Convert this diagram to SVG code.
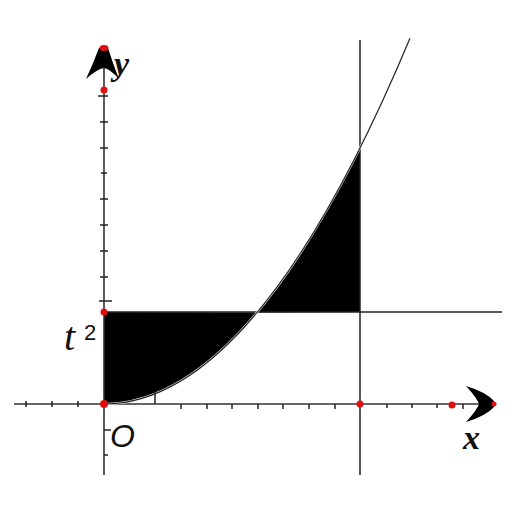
<svg xmlns="http://www.w3.org/2000/svg" width="512" height="512" viewBox="0 0 512 512">
<style>
.ax{stroke:#333;stroke-width:1.6;fill:none}
.ln{stroke:#222;stroke-width:1.5;fill:none}
.tk{stroke:#222;stroke-width:1.5}
.dot{fill:#e01010}
.lab{font-family:"Liberation Serif",serif;font-style:italic;font-weight:bold;fill:#111}
</style>
<rect width="512" height="512" fill="#fff"/>
<g id="shading">
<path d="M104,312 L257,312.6 Q180.5,404 104,404 Z" fill="#000"/>
<path d="M257,312.6 Q308.5,251 360,148 L360,312 Z" fill="#000"/>
</g>
<g id="connectors">
<line class="ax" x1="14" y1="404" x2="485" y2="404"/>
<line class="ax" x1="104" y1="50" x2="104" y2="475"/>
<line class="ln" x1="360" y1="40" x2="360" y2="475"/>
<line class="ln" x1="104" y1="312" x2="502" y2="312"/>
<path d="M104,404 Q257,404 410,38.2" stroke="#fff" stroke-width="2.2" fill="none"/>
<path d="M104,404 Q257,404 410,38.2" stroke="#222" stroke-width="1.2" fill="none"/>
<g id="ticks">
<path class="tk" d="M26,401V407 M52,401V407 M78,401V407 M181,404V409 M207,404V409 M232,404V409 M258,404V409 M283,404V409 M309,404V409 M335,404V409 M387,404V408 M412,404V408 M437,404V408 M463,404V409 M155,392V404"/>
<path class="tk" d="M98,96H108 M100,122H108 M100,148H108 M101,173H107 M100,199H108 M100,225H108 M100,251H108 M100,277H108 M99,301H112 M104,430H111 M104,455H108"/>
</g>
<path id="yarrow" d="M99,48 L108,48 Q113,64 119,79 Q110,69 104,68 Q97,69 86,79 Q93,64 99,48 Z" fill="#000"/>
<path id="xarrow" d="M466,386 Q486,392 494,401 L494,407 Q486,416 466,422 Q477,410 479,404 Q477,398 466,386 Z" fill="#000"/>
</g>
<g id="points">
<ellipse class="dot" cx="104" cy="48" rx="4.5" ry="3"/>
<circle class="dot" cx="104" cy="90" r="3.5"/>
<circle class="dot" cx="104" cy="312" r="3.5"/>
<circle class="dot" cx="104" cy="404" r="4"/>
<circle class="dot" cx="360" cy="404" r="3.5"/>
<circle class="dot" cx="452" cy="405" r="3.5"/>
<circle class="dot" cx="494" cy="404" r="2.5"/>
</g>
<g id="labels">
<text class="lab" x="114" y="75" font-size="34">y</text>
<text x="64" y="350" font-family="Liberation Serif,serif" font-style="italic" font-size="40" fill="#111">t</text>
<text x="84" y="340" font-family="Liberation Sans,sans-serif" font-size="22" fill="#111">2</text>
<text x="110" y="447" font-family="Liberation Sans,sans-serif" font-style="italic" font-size="32" fill="#111">O</text>
<text class="lab" x="463" y="449" font-size="34">x</text>
</g>
</svg>
